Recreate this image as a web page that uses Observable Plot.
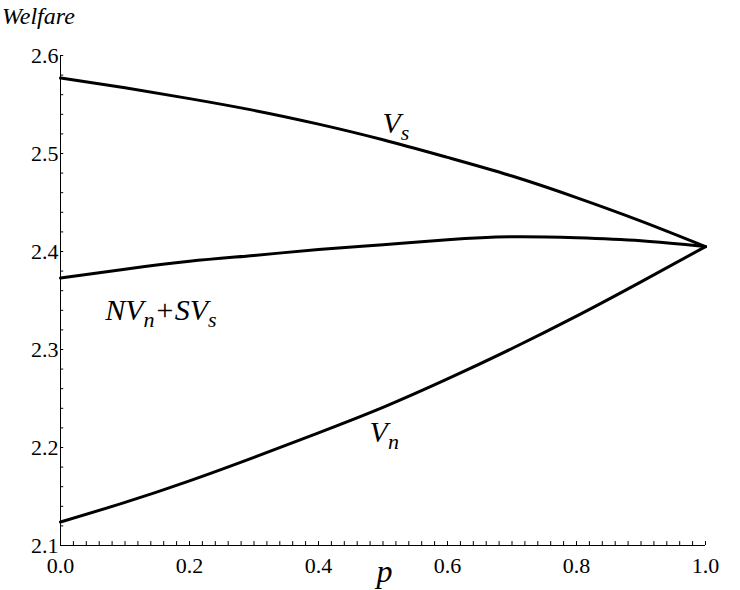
<!DOCTYPE html>
<html><head>
<script src="https://cdn.jsdelivr.net/npm/d3@7"></script>
<script src="https://cdn.jsdelivr.net/npm/@observablehq/plot@0.6"></script>
<style>body{margin:0;background:#fff}</style>
</head><body><div id="chart"></div>
<script>
const p = [0, 0.1, 0.2, 0.3, 0.4, 0.5, 0.6, 0.7, 0.8, 0.9, 1.0]
const Vs = [2.577, 2.567, 2.556, 2.544, 2.530, 2.514, 2.496, 2.477, 2.455, 2.431, 2.405]
const NVnSVs = [2.373, 2.382, 2.390, 2.396, 2.402, 2.407, 2.412, 2.415, 2.414, 2.411, 2.405]
const Vn = [2.124, 2.144, 2.166, 2.190, 2.215, 2.241, 2.270, 2.301, 2.334, 2.369, 2.405]
const xTicks = [0, 0.2, 0.4, 0.6, 0.8, 1.0]
const yTicks = [2.1, 2.2, 2.3, 2.4, 2.5, 2.6]
const minorX = d3.range(0, 1.001, 0.02)
const minorY = d3.range(2.1, 2.601, 0.02)

const series = [["Vs", Vs], ["Mix", NVnSVs], ["Vn", Vn]]
const rows = series.flatMap(([k, vals]) => vals.map((v, i) => ({k, p: p[i], w: v})))

const serif = "'Liberation Serif', 'DejaVu Serif', serif"
const chart = Plot.plot({
  width: 740, height: 590,
  marginLeft: 60, marginRight: 35, marginTop: 55, marginBottom: 45,
  style: {background: "white"},
  x: {type: "linear", domain: [0, 1], ticks: xTicks, tickFormat: d3.format(".1f"), tickSize: 0, tickPadding: 12, label: null},
  y: {type: "linear", domain: [2.1, 2.6], ticks: yTicks, tickFormat: d3.format(".1f"), tickSize: 0, tickPadding: 2, label: null},
  marks: [
    Plot.ruleX([0], {stroke: "black"}),
    Plot.ruleY([2.1], {stroke: "black"}),
    Plot.ruleX(minorX, {x: d => d, y1: 2.1, y2: 2.104, stroke: "black"}),
    Plot.ruleY(minorY, {y: d => d, x1: 0, x2: 0.005, stroke: "black"}),
    Plot.line(rows, {x: "p", y: "w", z: "k", curve: "natural", stroke: "black", strokeWidth: 3})
  ]
})
d3.select("#chart").append(() => chart)
const svg = d3.select(chart)
svg.selectAll("text").style("font-family", serif).style("font-size", "22px")
const sx = chart.scale("x"), sy = chart.scale("y")
function label(x, y, parts) {
  const t = svg.append("text").attr("x", sx.apply(x)).attr("y", sy.apply(y)).attr("text-anchor", "start")
    .style("font-family", serif).style("font-style", "italic").style("font-size", "30px")
  let down = false
  parts.forEach(([s, sub]) => {
    const ts = t.append("tspan").text(s)
    if (sub) { ts.style("font-size", "22px").attr("dy", 7); down = true }
    else if (down) { ts.attr("dy", -7); down = false }
  })
}
label(0.5, 2.52, [["V"], ["s", 1]])
label(0.07, 2.33, [["NV"], ["n", 1], ["+SV"], ["s", 1]])
label(0.48, 2.205, [["V"], ["n", 1]])
svg.append("text").attr("x", 2).attr("y", 24).text("Welfare").attr("text-anchor", "start")
  .style("font-family", serif).style("font-style", "italic").style("font-size", "24px")
svg.append("text").attr("x", sx.apply(0.5) - 6).attr("y", 582).text("p").attr("text-anchor", "start")
  .style("font-family", serif).style("font-style", "italic").style("font-size", "32px")
</script>
</body></html>
